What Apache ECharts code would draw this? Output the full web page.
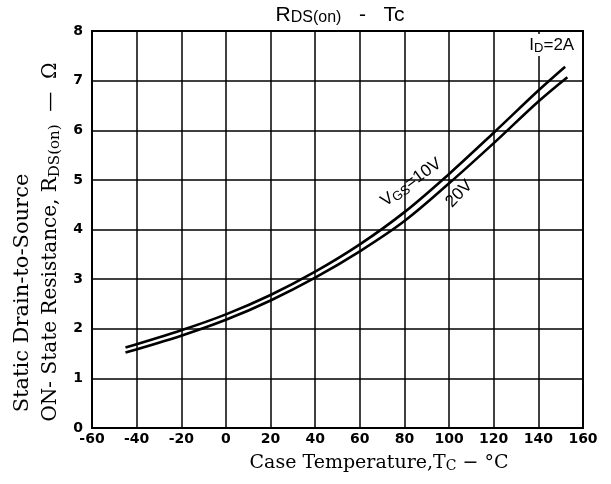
<!DOCTYPE html>
<html><head><meta charset="utf-8">
<script src="https://cdn.jsdelivr.net/npm/echarts@6/dist/echarts.min.js"></script>
<style>html,body{margin:0;padding:0;background:#fff}#c{width:611px;height:484px}</style>
</head><body><div id="c"></div>
<script>
const xTicks = [-60,-40,-20,0,20,40,60,80,100,120,140,160];
const yTicks = [0,1,2,3,4,5,6,7,8];
const temps10 = [-45,-20,0,20,40,60,80,100,120,140,152];
const rds10   = [1.62,1.97,2.29,2.68,3.15,3.70,4.35,5.12,5.95,6.80,7.28];
const temps20 = [-45,-20,0,20,40,60,80,100,120,140,153];
const rds20   = [1.52,1.86,2.18,2.57,3.03,3.56,4.17,4.93,5.74,6.58,7.07];
const labelVgs = [83,4.95];
const label20 = [104.5,4.72];
const labelId = [146,7.72];

const chart = echarts.init(document.getElementById('c'), null, {renderer:'canvas'});
const serif = '"DejaVu Serif", "Liberation Serif", serif';
const sans = '"DejaVu Sans", "Liberation Sans", sans-serif';
const lblSans = '"Liberation Sans", Arial, sans-serif';
function pairs(xs, ys){ return xs.map((x,i)=>[x, ys[i]]); }
const labelBase = {show:true, position:'inside', color:'#000', textBorderWidth:0};
chart.setOption({
  animation:false,
  backgroundColor:'#fff',
  grid:{left:92, right:28, top:31, bottom:56, show:true, borderColor:'#000', borderWidth:2, backgroundColor:'transparent'},
  xAxis:{type:'value', min:xTicks[0], max:xTicks[xTicks.length-1], interval:20,
    axisLine:{show:true, onZero:false, lineStyle:{color:'#000', width:2}},
    axisTick:{show:false},
    splitLine:{show:true, lineStyle:{color:'#000', width:1.5}},
    axisLabel:{color:'#000', fontFamily:sans, fontWeight:'bold', fontSize:14, margin:4}},
  yAxis:{type:'value', min:yTicks[0], max:yTicks[yTicks.length-1], interval:1,
    axisLine:{show:true, onZero:false, lineStyle:{color:'#000', width:2}},
    axisTick:{show:false},
    splitLine:{show:true, lineStyle:{color:'#000', width:1.5}},
    axisLabel:{color:'#000', fontFamily:sans, fontWeight:'bold', fontSize:14, margin:9}},
  series:[
    {type:'line', data:pairs(temps10, rds10), smooth:0.35, symbol:'none', lineStyle:{color:'#000', width:2.6}},
    {type:'line', data:pairs(temps20, rds20), smooth:0.35, symbol:'none', lineStyle:{color:'#000', width:2.6}},
    {type:'scatter', symbolSize:0, silent:true, z:10, itemStyle:{opacity:1, color:'#000'},
      data:[
        {value:labelVgs, label:Object.assign({}, labelBase, {rotate:36,
          formatter:'{a|V}{s|GS}{a|=10V}',
          rich:{a:{fontFamily:lblSans, fontSize:17, color:'#000'}, s:{fontFamily:lblSans, fontSize:13, color:'#000', padding:[7,0,0,0]}}})},
        {value:label20, label:Object.assign({}, labelBase, {rotate:46,
          formatter:'{a|20V}',
          rich:{a:{fontFamily:lblSans, fontSize:17, color:'#000'}}})},
        {value:labelId, label:Object.assign({}, labelBase, {backgroundColor:'#fff', padding:[1,2,1,2],
          formatter:'{a|I}{s|D}{a|=2A}',
          rich:{a:{fontFamily:lblSans, fontSize:17, color:'#000'}, s:{fontFamily:lblSans, fontSize:13, color:'#000', padding:[7,0,0,0]}}})}
      ]}
  ],
  graphic:[
    {type:'text', x:340, y:15, style:{text:'{a|R}{s|DS(on)}{a|   -   Tc}', align:'center', verticalAlign:'middle',
      rich:{a:{fontFamily:lblSans, fontSize:21, fill:'#000'}, s:{fontFamily:lblSans, fontSize:16, fill:'#000', padding:[6,0,0,0]}}}},
    {type:'text', x:379, y:463, style:{text:'{a|Case Temperature,T}{s|C}{a| − °C}', align:'center', verticalAlign:'middle',
      rich:{a:{fontFamily:serif, fontSize:19, fill:'#000'}, s:{fontFamily:serif, fontSize:14, fill:'#000', padding:[7,0,0,0]}}}},
    {type:'text', x:23, y:293, rotation:Math.PI/2, style:{text:'Static Drain-to-Source', align:'center', verticalAlign:'middle',
      fontFamily:serif, fontSize:21, fill:'#000'}},
    {type:'text', x:51, y:242, rotation:Math.PI/2, style:{text:'{a|ON- State Resistance, R}{s|DS(on)}{a|  —  Ω}', align:'center', verticalAlign:'middle',
      rich:{a:{fontFamily:serif, fontSize:20, fill:'#000'}, s:{fontFamily:serif, fontSize:15, fill:'#000', padding:[8,0,0,0]}}}}
  ]
});
</script></body></html>
